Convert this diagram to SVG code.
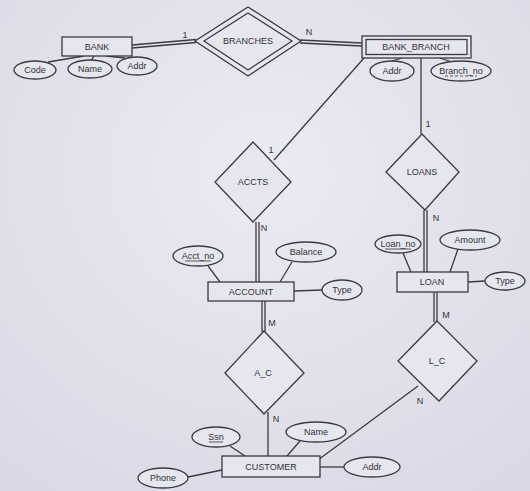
<svg xmlns="http://www.w3.org/2000/svg" width="530" height="491" viewBox="0 0 530 491">
<defs>
<radialGradient id="bg" cx="0.5" cy="0.35" r="0.8">
<stop offset="0" stop-color="#ebebf2"/>
<stop offset="1" stop-color="#d9d8e5"/>
</radialGradient>
</defs>
<style>
.s{fill:none;stroke:#3a3a40;stroke-width:1.3}
.e{fill:#e6e6ee;stroke:#3a3a40;stroke-width:1.3}
.t{font-family:"Liberation Sans",Arial,sans-serif;font-size:9px;fill:#333338;text-anchor:middle}
.u{stroke:#333338;stroke-width:0.8}
</style>
<rect width="530" height="491" fill="url(#bg)"/>
<g id="connectors">
<line class="s" x1="132" y1="45" x2="196" y2="39.5"/>
<line class="s" x1="132" y1="48" x2="196" y2="42.5"/>
<line class="s" x1="300" y1="40" x2="362" y2="43"/>
<line class="s" x1="300" y1="43" x2="362" y2="46"/>
<line class="s" x1="364" y1="58" x2="274" y2="160"/>
<line class="s" x1="421" y1="58" x2="421" y2="134"/>
<line class="s" x1="424" y1="210" x2="424" y2="272"/>
<line class="s" x1="427" y1="210" x2="427" y2="272"/>
<line class="s" x1="256" y1="222" x2="256" y2="282"/>
<line class="s" x1="259" y1="222" x2="259" y2="282"/>
<line class="s" x1="262" y1="301" x2="262" y2="332"/>
<line class="s" x1="265" y1="301" x2="265" y2="332"/>
<line class="s" x1="268" y1="412" x2="268" y2="456"/>
<line class="s" x1="434" y1="292" x2="434" y2="322"/>
<line class="s" x1="437" y1="292" x2="437" y2="322"/>
<line class="s" x1="418" y1="386" x2="318" y2="460"/>
<line class="s" x1="84" y1="56" x2="48" y2="62"/>
<line class="s" x1="94" y1="56" x2="91" y2="61"/>
<line class="s" x1="106" y1="56" x2="125" y2="58"/>
<line class="s" x1="402" y1="58" x2="392" y2="61"/>
<line class="s" x1="440" y1="58" x2="452" y2="62"/>
<line class="s" x1="208" y1="266" x2="220" y2="282"/>
<line class="s" x1="292" y1="262" x2="280" y2="282"/>
<line class="s" x1="294" y1="291" x2="322" y2="290"/>
<line class="s" x1="403" y1="253" x2="411" y2="272"/>
<line class="s" x1="458" y1="249" x2="450" y2="272"/>
<line class="s" x1="468" y1="282" x2="485" y2="281"/>
<line class="s" x1="230" y1="446" x2="245" y2="456"/>
<line class="s" x1="300" y1="441" x2="287" y2="456"/>
<line class="s" x1="188" y1="477" x2="222" y2="470"/>
<line class="s" x1="320" y1="467" x2="344" y2="467"/>
<text class="t" x="185" y="38">1</text>
<text class="t" x="309" y="35">N</text>
<text class="t" x="271" y="153">1</text>
<text class="t" x="428" y="127">1</text>
<text class="t" x="436" y="221">N</text>
<text class="t" x="264" y="231">N</text>
<text class="t" x="272" y="326">M</text>
<text class="t" x="276" y="422">N</text>
<text class="t" x="446" y="318">M</text>
<text class="t" x="420" y="404">N</text>
</g>
<g id="bank">
<rect class="e" x="62" y="37" width="70" height="19"/>
<text class="t" x="97" y="50">BANK</text>
</g>
<g id="bank_code"><ellipse class="e" cx="35" cy="70" rx="21" ry="9"/><text class="t" x="35" y="73">Code</text></g>
<g id="bank_name"><ellipse class="e" cx="90" cy="69" rx="22" ry="9"/><text class="t" x="90" y="72">Name</text></g>
<g id="bank_addr"><ellipse class="e" cx="137" cy="66" rx="20" ry="9"/><text class="t" x="137" y="69">Addr</text></g>
<g id="branches">
<polygon class="e" points="248,7 301,41 248,76 195,41"/>
<polygon class="s" points="248,13 292,41 248,70 204,41"/>
<text class="t" x="248" y="44">BRANCHES</text>
</g>
<g id="bank_branch">
<rect class="e" x="362" y="36" width="109" height="22"/>
<rect class="s" x="366" y="39.5" width="101" height="15"/>
<text class="t" x="416" y="50">BANK_BRANCH</text>
</g>
<g id="bb_addr"><ellipse class="e" cx="392" cy="71" rx="22" ry="10"/><text class="t" x="392" y="74">Addr</text></g>
<g id="bb_branch_no"><ellipse class="e" cx="461" cy="71" rx="30" ry="10"/><text class="t" x="461" y="74">Branch_no</text><line class="u" x1="445" y1="76" x2="477" y2="76" stroke-dasharray="3,2"/></g>
<g id="accts">
<polygon class="e" points="253,142 291,182 253,222 215,182"/>
<text class="t" x="253" y="185">ACCTS</text>
</g>
<g id="loans">
<polygon class="e" points="422,134 459,172 425,210 386,172"/>
<text class="t" x="422" y="175">LOANS</text>
</g>
<g id="account">
<rect class="e" x="208" y="282" width="86" height="19"/>
<text class="t" x="251" y="295">ACCOUNT</text>
</g>
<g id="acct_no"><ellipse class="e" cx="198" cy="256" rx="25" ry="10"/><text class="t" x="198" y="259">Acct_no</text><line class="u" x1="185" y1="261" x2="211" y2="261"/></g>
<g id="acct_balance"><ellipse class="e" cx="306" cy="252" rx="30" ry="10"/><text class="t" x="306" y="255">Balance</text></g>
<g id="acct_type"><ellipse class="e" cx="342" cy="290" rx="20" ry="10"/><text class="t" x="342" y="293">Type</text></g>
<g id="loan">
<rect class="e" x="397" y="272" width="71" height="20"/>
<text class="t" x="432" y="285">LOAN</text>
</g>
<g id="loan_no"><ellipse class="e" cx="398" cy="244" rx="23" ry="9"/><text class="t" x="398" y="247">Loan_no</text><line class="u" x1="385" y1="249" x2="411" y2="249"/></g>
<g id="loan_amount"><ellipse class="e" cx="470" cy="240" rx="30" ry="10"/><text class="t" x="470" y="243">Amount</text></g>
<g id="loan_type"><ellipse class="e" cx="505" cy="281" rx="20" ry="9"/><text class="t" x="505" y="284">Type</text></g>
<g id="a_c">
<polygon class="e" points="264,331 304,373 264,414 225,373"/>
<text class="t" x="263" y="376">A_C</text>
</g>
<g id="l_c">
<polygon class="e" points="437,321 477,361 439,401 398,361"/>
<text class="t" x="437" y="364">L_C</text>
</g>
<g id="customer">
<rect class="e" x="222" y="456" width="98" height="21"/>
<text class="t" x="271" y="470">CUSTOMER</text>
</g>
<g id="cust_ssn"><ellipse class="e" cx="216" cy="437" rx="24" ry="10"/><text class="t" x="216" y="440">Ssn</text><line class="u" x1="209" y1="442" x2="223" y2="442"/></g>
<g id="cust_name"><ellipse class="e" cx="316" cy="432" rx="30" ry="10"/><text class="t" x="316" y="435">Name</text></g>
<g id="cust_phone"><ellipse class="e" cx="163" cy="478" rx="25" ry="10"/><text class="t" x="163" y="481">Phone</text></g>
<g id="cust_addr"><ellipse class="e" cx="372" cy="467" rx="28" ry="10"/><text class="t" x="372" y="470">Addr</text></g>
</svg>
